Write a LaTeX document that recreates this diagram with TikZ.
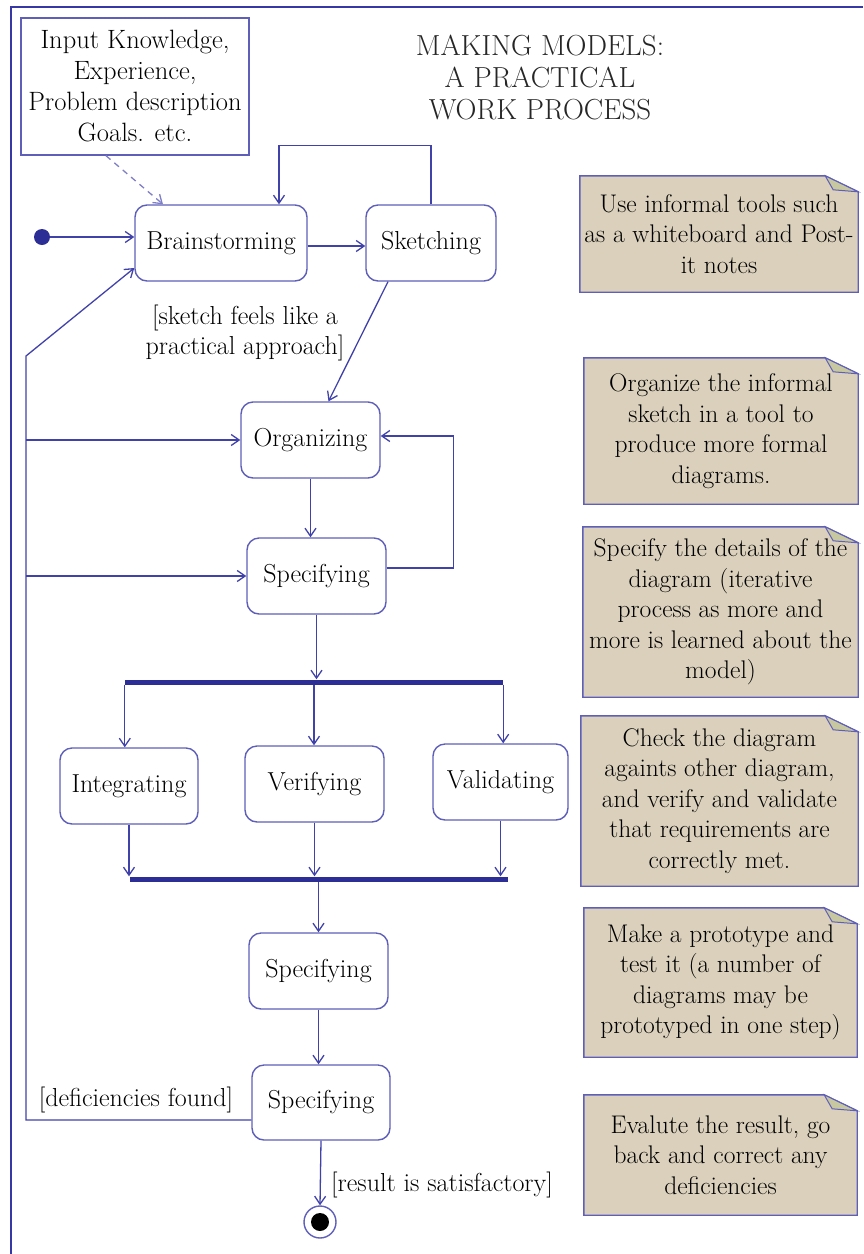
\documentclass[tikz,border=0pt]{standalone}
\usepackage{fontspec}
\usepackage{tikz}
\usetikzlibrary{arrows.meta, backgrounds}
\definecolor{frameblue}{RGB}{55,55,165}
\definecolor{boxblue}{RGB}{95,95,185}
\definecolor{lineblue}{RGB}{65,65,170}
\definecolor{barblue}{RGB}{45,45,150}
\definecolor{paperbeige}{RGB}{218,208,188}
\definecolor{foldgreen}{RGB}{200,200,160}
\tikzset{
	activity/.style={draw=boxblue, line width=1.4pt, rounded corners=12pt, fill=white, inner sep=0pt, minimum height=76pt, font=\fontsize{26}{30}\selectfont},
	flow/.style={draw=lineblue, line width=1.3pt, -{Straight Barb[length=8pt,width=11pt]}},
	dashflow/.style={flow, draw=boxblue!80, dash pattern=on 6pt off 5pt},
	bar/.style={fill=barblue, inner sep=0pt, minimum height=5pt},
	guard/.style={align=center, inner sep=0pt, font=\fontsize{26}{30}\selectfont},
	note/.style={align=center, inner sep=0pt, font=\fontsize{25.5}{30.5}\selectfont\addfontfeature{FakeBold=0.6}},
	paper/.style={fill=paperbeige, draw=boxblue, line width=1.4pt},
	fold/.style={fill=foldgreen, draw=boxblue, line width=1pt}
}
\begin{document}
\begin{tikzpicture}[x=1pt, y=-1pt]
\useasboundingbox (0,0) rectangle (863,1254);
\draw[frameblue, line width=2pt] (11,1254) -- (11,7) -- (863,7);

\node[draw=boxblue, line width=1.4pt, align=center, inner sep=0pt, minimum width=228pt, minimum height=137pt, font=\fontsize{26.5}{31}\selectfont] (input) at (135,86.5) {Input Knowledge,\\Experience,\\Problem description\\Goals. etc.};
\node[align=center, text=black!85, font=\fontsize{29}{32}\selectfont] (heading) at (540,77) {MAKING MODELS:\\A PRACTICAL\\WORK PROCESS};

\node[circle, fill=barblue, inner sep=0pt, minimum size=16pt] (init) at (42,237) {};
\node[activity, minimum width=172pt] (brain) at (221,243) {Brainstorming};
\node[activity, minimum width=130pt] (sketch) at (431,243) {Sketching};
\node[activity, minimum width=139pt] (org) at (310.5,440) {Organizing};
\node[activity, minimum width=139pt] (spec1) at (316.5,576) {Specifying};
\node[bar, minimum width=378pt] (fork) at (314,682) {};
\node[activity, minimum width=138pt] (integ) at (129,786) {Integrating};
\node[activity, minimum width=139pt] (verif) at (314.5,784) {Verifying};
\node[activity, minimum width=135pt] (valid) at (500.5,782) {Validating};
\node[bar, minimum width=378pt] (join) at (319,879) {};
\node[activity, minimum width=139pt] (spec2) at (318.5,971) {Specifying};
\node[activity, minimum width=138pt, minimum height=75pt] (spec3) at (321,1102.5) {Specifying};
\node[circle, draw=boxblue, line width=1.4pt, fill=white, inner sep=0pt, minimum size=32pt] (final) at (320,1222) {};
\node[circle, fill=black, inner sep=0pt, minimum size=18pt] (finaldot) at (final) {};

\node[guard] (sketchguard) at (245,333) {[sketch feels like a\\practical approach]};
\node[guard] (defguard) at (136,1100) {[deficiencies found]};
\node[guard] (okguard) at (442,1185) {[result is satisfactory]};

\node[note, minimum width=278pt, minimum height=116pt] (tip1) at (719,234) {Use informal tools such\\as a whiteboard and Post-\\it notes};
\node[note, minimum width=274pt, minimum height=146pt] (tip2) at (721,431) {Organize the informal\\sketch in a tool to\\produce more formal\\diagrams.};
\node[note, minimum width=275pt, minimum height=170pt] (tip3) at (720.5,612) {Specify the details of the\\diagram (iterative\\process as more and\\more is learned about the\\model)};
\node[note, minimum width=277pt, minimum height=170pt] (tip4) at (719.5,801) {Check the diagram\\againts other diagram,\\and verify and validate\\that requirements are\\correctly met.};
\node[note, minimum width=273pt, minimum height=149pt] (tip5) at (720.5,982.5) {Make a prototype and\\test it (a number of\\diagrams may be\\prototyped in one step)};
\node[note, minimum width=273pt, minimum height=120pt] (tip6) at (720.5,1155) {Evalute the result, go\\back and correct any\\deficiencies};

\begin{scope}[on background layer]
\foreach \t in {tip1,tip2,tip3,tip4,tip5,tip6}{
	\filldraw[paper] (\t.south west) -- (\t.north west) -- ([xshift=-33pt]\t.north east) -- ([yshift=-16pt]\t.north east) -- (\t.south east) -- cycle;
	\filldraw[fold] ([xshift=-33pt]\t.north east) -- ([xshift=-25pt,yshift=-14pt]\t.north east) -- ([yshift=-16pt]\t.north east) -- cycle;
}
\end{scope}

\coordinate (backlow) at (26,1120);
\coordinate (backhigh) at (26,356);

\draw[flow] (init) -- (brain.west |- init);
\draw[dashflow] ([xshift=-29pt]input.south) -- ([xshift=-58pt]brain.north);
\draw[flow] ([yshift=-3pt]brain.east) -- ([yshift=-3pt]sketch.west);
\draw[flow] (sketch.north) -- ++(0,-59) -| ([xshift=58pt]brain.north);
\draw[flow] ([xshift=-43pt]sketch.south) -- ([xshift=18pt]org.north);
\draw[flow] (org.south) -- (org.south |- spec1.north);
\draw[flow] ([yshift=8pt]spec1.east) -- ++(67,0) |- ([yshift=4pt]org.east);
\draw[flow] (spec1.south) -- (spec1.south |- fork.north);
\draw[flow] (fork.south west) -- (fork.south west |- integ.north);
\draw[flow] (fork.south) -- (fork.south |- verif.north);
\draw[flow] (fork.south east) -- (fork.south east |- valid.north);
\draw[flow] (integ.south) -- (integ.south |- join.north);
\draw[flow] (verif.south) -- (verif.south |- join.north);
\draw[flow] (valid.south) -- (valid.south |- join.north);
\draw[flow] (spec2.north |- join.south) -- (spec2.north);
\draw[flow] (spec2.south) -- (spec2.south |- spec3.north);
\draw[flow] (spec3.south) -- (final.north);
\draw[flow] ([yshift=-17.5pt]spec3.west) -- (backlow) -- (backhigh) -- ([yshift=-25pt]brain.west);
\draw[flow] (backlow |- org.west) -- (org.west);
\draw[flow] (backlow |- spec1.west) -- (spec1.west);
\end{tikzpicture}
\end{document}
